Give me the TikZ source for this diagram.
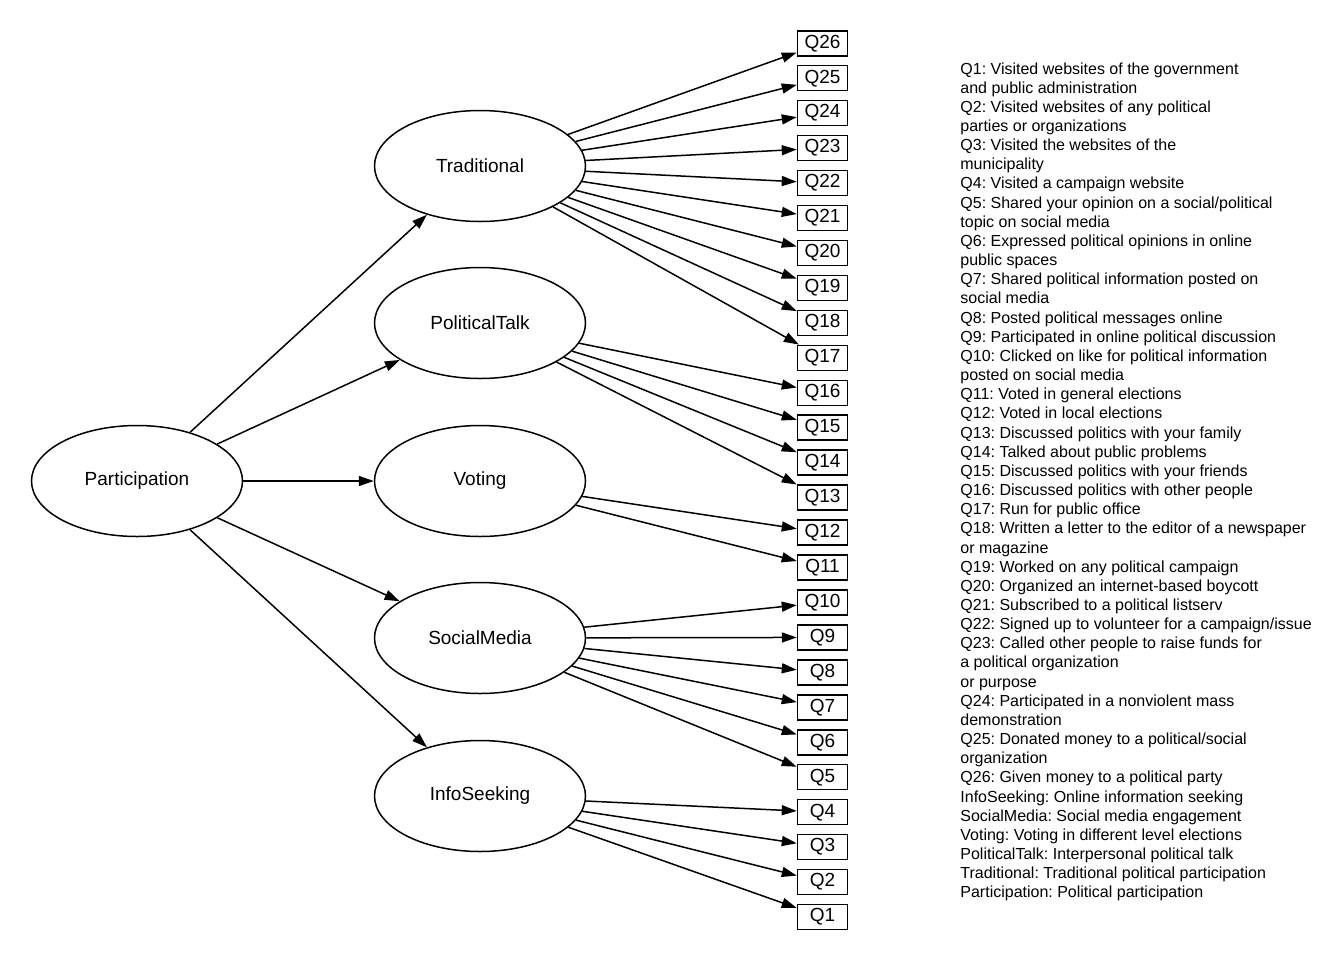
\documentclass[tikz,border=0pt]{standalone}
\usepackage{fontspec}
\setmainfont{Liberation Sans}
\frenchspacing
\usetikzlibrary{arrows.meta,shapes.geometric}

\begin{document}
\begin{tikzpicture}[
  x=0.5pt, y=-0.5pt,
  every node/.style={font=\fontsize{9.5}{11}\selectfont},
  latent/.style={ellipse, draw, line width=0.75pt, minimum width=105.5pt,
    minimum height=55.5pt, inner sep=0pt},
  item/.style={draw, line width=0.75pt, minimum width=25pt,
    minimum height=12.5pt, inner sep=0pt},
  arr/.style={-{Triangle[length=7.5pt,width=5pt]}, line width=0.75pt},
  legend/.style={font=\fontsize{8}{9.58}\selectfont, align=left,
    inner sep=0pt, anchor=north west}
]
  \useasboundingbox (0,0) rectangle (1344,960);

  % latent variables
  \node[latent] (part) at (137,481) {Participation};
  \node[latent] (trad) at (480,166) {Traditional};
  \node[latent] (talk) at (480,323) {PoliticalTalk};
  \node[latent] (vote) at (480,481) {Voting};
  \node[latent] (social) at (480,638) {SocialMedia};
  \node[latent] (info) at (480,796) {InfoSeeking};

  % observed items
  \foreach \i in {1,...,26}
    \node[item] (q\i) at (822.5,{917-(\i-1)*34.95}) {Q\i};

  \foreach \t in {trad,talk,vote,social,info}
    \draw[arr] (part) -- (\t);
  \foreach \i in {17,...,26}
    \draw[arr] (trad) -- (q\i);
  \foreach \i in {13,...,16}
    \draw[arr] (talk) -- (q\i);
  \foreach \i in {11,12}
    \draw[arr] (vote) -- (q\i);
  \foreach \i in {5,...,10}
    \draw[arr] (social) -- (q\i);
  \foreach \i in {1,...,4}
    \draw[arr] (info) -- (q\i);

  % key
  \node[legend] (key) at (960,62) {Q1: Visited websites of the government\\
    and public administration\\
    Q2: Visited websites of any political\\
    parties or organizations\\
    Q3: Visited the websites of the\\
    municipality\\
    Q4: Visited a campaign website\\
    Q5: Shared your opinion on a social/political\\
    topic on social media\\
    Q6: Expressed political opinions in online\\
    public spaces\\
    Q7: Shared political information posted on\\
    social media\\
    Q8: Posted political messages online\\
    Q9: Participated in online political discussion\\
    Q10: Clicked on like for political information\\
    posted on social media\\
    Q11: Voted in general elections\\
    Q12: Voted in local elections\\
    Q13: Discussed politics with your family\\
    Q14: Talked about public problems\\
    Q15: Discussed politics with your friends\\
    Q16: Discussed politics with other people\\
    Q17: Run for public office\\
    Q18: Written a letter to the editor of a newspaper\\
    or magazine\\
    Q19: Worked on any political campaign\\
    Q20: Organized an internet-based boycott\\
    Q21: Subscribed to a political listserv\\
    Q22: Signed up to volunteer for a campaign/issue\\
    Q23: Called other people to raise funds for\\
    a political organization\\
    or purpose\\
    Q24: Participated in a nonviolent mass\\
    demonstration\\
    Q25: Donated money to a political/social\\
    organization\\
    Q26: Given money to a political party\\
    InfoSeeking: Online information seeking\\
    SocialMedia: Social media engagement\\
    Voting: Voting in different level elections\\
    PoliticalTalk: Interpersonal political talk\\
    Traditional: Traditional political participation\\
    Participation: Political participation};
\end{tikzpicture}
\end{document}
